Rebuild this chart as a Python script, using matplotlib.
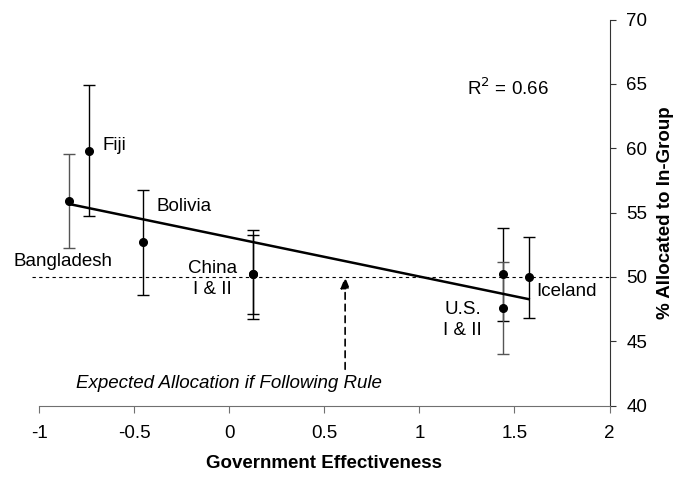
import numpy as np
import matplotlib.pyplot as plt

plt.rcParams['font.family'] = ['Liberation Sans', 'DejaVu Sans']
plt.rcParams['font.size'] = 13.5

# Government effectiveness score, mean % allocated to in-group and error half-width
groups = ['Bangladesh', 'Fiji', 'Bolivia', 'China I', 'China II', 'U.S. I', 'U.S. II', 'Iceland']
gov_eff = [-0.844, -0.737, -0.454, 0.124, 0.124, 1.44, 1.44, 1.575]
allocated = [55.9, 59.8, 52.7, 50.2, 50.2, 50.2, 47.6, 49.98]
err = [3.68, 5.1, 4.08, 3.45, 3.1, 3.6, 3.6, 3.15]
bar_colors = ['#555555', 'black', 'black', 'black', 'black', 'black', '#555555', 'black']

expected = 50
r_squared = 0.66

fig = plt.figure(figsize=(6.75, 4.78), dpi=100)
ax = fig.add_axes([0.0582, 0.1513, 0.8448, 0.8077])

# rule line (50/50 split)
ax.plot([-1.04, 2], [expected, expected], color='black', lw=0.8,
        linestyle=(0, (3, 3)), clip_on=False, zorder=1)

for x, y, e, c in zip(gov_eff, allocated, err, bar_colors):
    ax.errorbar(x, y, yerr=e, fmt='none', ecolor=c, elinewidth=1.0,
                capsize=4, capthick=1.0, zorder=2)
ax.plot(gov_eff, allocated, 'o', color='black', markersize=5.5, zorder=4)

# linear fit across the range of countries
slope, intercept = np.polyfit(gov_eff, allocated, 1)
xs = np.array([min(gov_eff), max(gov_eff)])
ax.plot(xs, intercept + slope * xs, color='black', lw=1.8, zorder=3)

# country labels
ax.text(-0.668, 60.2, 'Fiji', ha='left', va='center')
ax.text(-0.382, 55.46, 'Bolivia', ha='left', va='center')
ax.text(-1.136, 51.24, 'Bangladesh', ha='left', va='center')
ax.text(-0.091, 49.83, 'China\nI & II', ha='center', va='center', linespacing=1.3)
ax.text(1.227, 46.65, 'U.S.\nI & II', ha='center', va='center', linespacing=1.3)
ax.text(1.613, 48.86, 'Iceland', ha='left', va='center')
ax.text(1.25, 64.66, 'R$^2$ = %.2f' % r_squared, ha='left', va='center')

ax.annotate('', xy=(0.609, expected), xytext=(0.609, 42.83),
            arrowprops=dict(arrowstyle='-|>,head_length=0.5,head_width=0.2',
                            color='black', lw=1.2, linestyle=(0, (4, 3)),
                            shrinkA=0, shrinkB=0))
ax.text(0.0, 41.74, 'Expected Allocation if Following Rule', style='italic',
        ha='center', va='center')

ax.set_xlim(-1, 2)
ax.set_ylim(40, 70)
ax.set_xticks(np.arange(-1, 2.01, 0.5))
ax.set_xticklabels(['-1', '-0.5', '0', '0.5', '1', '1.5', '2'])
ax.set_yticks(range(40, 71, 5))

ax.yaxis.tick_right()
ax.yaxis.set_label_position('right')
for side in ['top', 'left']:
    ax.spines[side].set_visible(False)
ax.spines['bottom'].set_color('#707070')
ax.spines['right'].set_color('#333333')
ax.tick_params(axis='x', direction='out', length=5, pad=9, colors='#707070', labelcolor='black')
ax.tick_params(axis='y', direction='out', length=4, pad=8, colors='#333333', labelcolor='black')

ax.set_xlabel('Government Effectiveness', fontweight='bold', labelpad=9)
ax.set_ylabel('% Allocated to In-Group', fontweight='bold', labelpad=7)

fig.savefig('out.png', dpi=100)
